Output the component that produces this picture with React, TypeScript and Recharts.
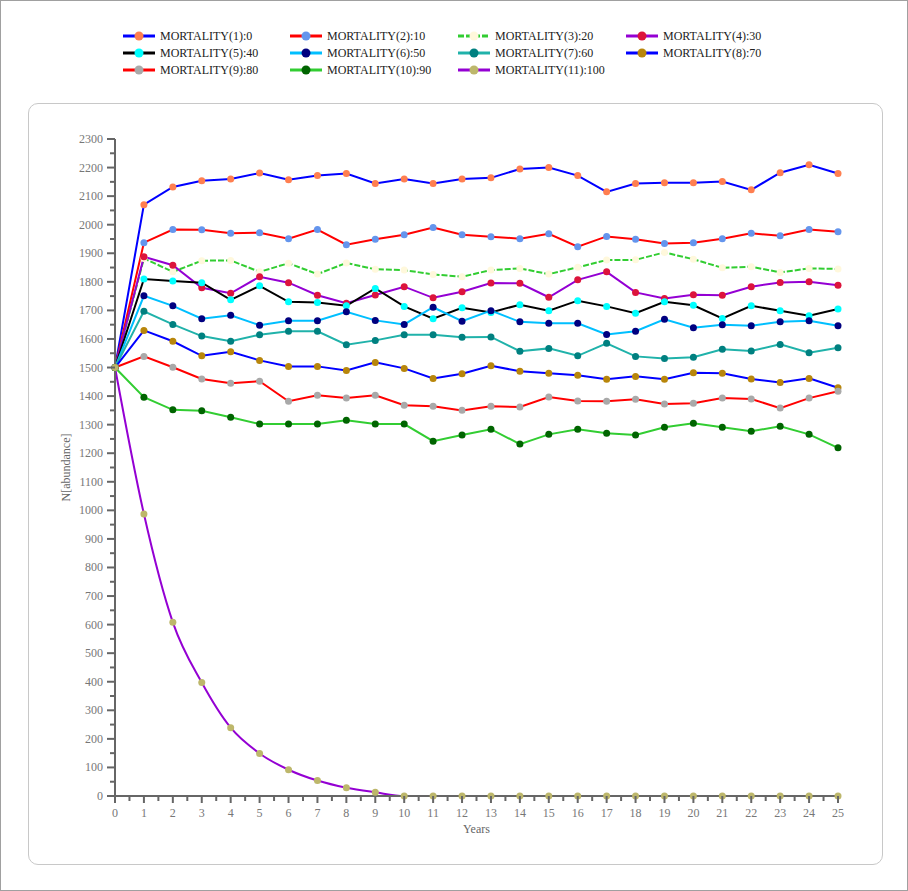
import { LineChart, Line, XAxis, YAxis } from 'recharts';

const years = [0, 1, 2, 3, 4, 5, 6, 7, 8, 9, 10, 11, 12, 13, 14, 15, 16, 17, 18, 19, 20, 21, 22, 23, 24, 25];

const mortality0 = [1500, 2070, 2132, 2154, 2160, 2181, 2157, 2172, 2179, 2144, 2160, 2144, 2160, 2164, 2195, 2200, 2172, 2115, 2144, 2147, 2147, 2151, 2122, 2182, 2210, 2179];
const mortality10 = [1500, 1937, 1983, 1982, 1970, 1972, 1951, 1983, 1930, 1949, 1965, 1990, 1965, 1958, 1951, 1968, 1923, 1959, 1949, 1934, 1937, 1951, 1970, 1961, 1983, 1975];
const mortality20 = [1500, 1882, 1835, 1874, 1875, 1835, 1865, 1827, 1866, 1844, 1841, 1826, 1818, 1841, 1847, 1827, 1851, 1876, 1877, 1903, 1879, 1849, 1853, 1833, 1847, 1845];
const mortality30 = [1500, 1888, 1858, 1779, 1760, 1818, 1797, 1753, 1725, 1754, 1783, 1744, 1765, 1796, 1795, 1746, 1807, 1835, 1763, 1742, 1755, 1753, 1783, 1798, 1800, 1788];
const mortality40 = [1500, 1810, 1803, 1797, 1737, 1786, 1730, 1728, 1716, 1777, 1714, 1671, 1709, 1693, 1720, 1699, 1734, 1714, 1690, 1730, 1718, 1672, 1716, 1699, 1681, 1705];
const mortality50 = [1500, 1751, 1716, 1671, 1683, 1648, 1664, 1664, 1695, 1665, 1651, 1711, 1662, 1699, 1660, 1655, 1655, 1616, 1627, 1669, 1639, 1650, 1646, 1660, 1664, 1646];
const mortality60 = [1500, 1697, 1651, 1610, 1592, 1615, 1627, 1627, 1580, 1595, 1615, 1615, 1606, 1607, 1557, 1567, 1541, 1585, 1539, 1532, 1536, 1564, 1558, 1581, 1552, 1569];
const mortality70 = [1500, 1630, 1592, 1541, 1555, 1525, 1504, 1504, 1490, 1518, 1497, 1462, 1478, 1506, 1487, 1480, 1473, 1459, 1469, 1459, 1482, 1480, 1460, 1448, 1462, 1429];
const mortality80 = [1500, 1539, 1501, 1460, 1445, 1452, 1382, 1403, 1393, 1403, 1368, 1364, 1350, 1364, 1362, 1397, 1383, 1382, 1389, 1372, 1375, 1393, 1390, 1358, 1393, 1417];
const mortality90 = [1500, 1396, 1352, 1349, 1326, 1302, 1302, 1302, 1315, 1302, 1302, 1242, 1264, 1284, 1232, 1266, 1284, 1270, 1264, 1291, 1305, 1291, 1277, 1294, 1266, 1219];
const mortality100 = [1500, 987, 608, 397, 239, 149, 92, 54, 29, 13, 0, 0, 0, 0, 0, 0, 0, 0, 0, 0, 0, 0, 0, 0, 0, 0];

const seriesValues = [mortality0, mortality10, mortality20, mortality30, mortality40, mortality50, mortality60, mortality70, mortality80, mortality90, mortality100];
const seriesNames = [
  'MORTALITY(1):0', 'MORTALITY(2):10', 'MORTALITY(3):20', 'MORTALITY(4):30',
  'MORTALITY(5):40', 'MORTALITY(6):50', 'MORTALITY(7):60', 'MORTALITY(8):70',
  'MORTALITY(9):80', 'MORTALITY(10):90', 'MORTALITY(11):100',
];

const lineColors = ['#0000ff', '#ff0000', '#32cd32', '#9400d3', '#000000', '#00bfff', '#20b2aa', '#0000ff', '#ff0000', '#32cd32', '#9400d3'];
const dotColors = ['#ff7f50', '#6495ed', '#fff8dc', '#dc143c', '#00ffff', '#000080', '#008080', '#b8860b', '#a9a9a9', '#006400', '#bdb76b'];
const dashes = [undefined, undefined, '6 2', undefined, undefined, undefined, undefined, undefined, undefined, undefined, undefined];

const xTicks = Array.from({ length: 51 }, (_, i) => i / 2);
const yTicks = Array.from({ length: 47 }, (_, i) => i * 50);

const data = years.map((year, i) => {
  const row: Record<string, number> = { year };
  seriesValues.forEach((vals, s) => {
    row[`s${s}`] = vals[i];
  });
  return row;
});

const FONT = '"Liberation Serif", "Times New Roman", serif';
const AXIS = '#666';
const TICK_TEXT = '#777';

function YTick(props: any) {
  const { x, y, payload } = props;
  const major = payload.value % 100 === 0;
  return (
    <g>
      <line x1={x - (major ? 8 : 5)} x2={x} y1={y} y2={y} stroke={AXIS} strokeWidth={2} />
      {major && (
        <text x={x - 12} y={y} dy={4} textAnchor="end" fontSize={12} fill={TICK_TEXT} fontFamily={FONT}>
          {payload.value}
        </text>
      )}
    </g>
  );
}

function XTick(props: any) {
  const { x, y, payload } = props;
  const major = Number.isInteger(payload.value);
  return (
    <g>
      <line x1={x} x2={x} y1={y} y2={y + (major ? 7 : 5)} stroke={AXIS} strokeWidth={2} />
      {major && (
        <text x={x} y={y} dy={21} textAnchor="middle" fontSize={12} fill={TICK_TEXT} fontFamily={FONT}>
          {payload.value}
        </text>
      )}
    </g>
  );
}

function YLabel(props: any) {
  const { viewBox } = props;
  const cx = viewBox.x + 11;
  const cy = viewBox.y + viewBox.height / 2;
  return (
    <text x={cx} y={cy} transform={`rotate(-90 ${cx} ${cy})`} textAnchor="middle" dy={4} fontSize={12} fill="#666" fontFamily={FONT}>
      N[abundance]
    </text>
  );
}

function TopLegend() {
  const colX = [122, 289, 457, 625];
  const rowY = [35, 52, 69];
  return (
    <svg width={908} height={90} style={{ position: 'absolute', left: 0, top: 0 }}>
      {seriesNames.map((name, i) => {
        const x = colX[i % 4];
        const y = rowY[Math.floor(i / 4)];
        return (
          <g key={name}>
            <line x1={x} x2={x + 32} y1={y} y2={y} stroke={lineColors[i]} strokeWidth={3} strokeDasharray={dashes[i]} />
            <circle cx={x + 16} cy={y} r={4.5} fill={dotColors[i]} />
            <text x={x + 37} y={y} dy={4} fontSize={12} fill="#222" fontFamily={FONT}>
              {name}
            </text>
          </g>
        );
      })}
    </svg>
  );
}

export default function App() {
  return (
    <div
      style={{
        position: 'absolute',
        left: 0,
        top: 0,
        width: 908,
        height: 891,
        boxSizing: 'border-box',
        border: '1px solid #a0a0a0',
        background: '#fff',
      }}
    >
      <div
        style={{
          position: 'absolute',
          left: 27,
          top: 102,
          width: 855,
          height: 762,
          boxSizing: 'border-box',
          border: '1px solid #c8c8c8',
          borderRadius: 10,
        }}
      />
      <TopLegend />
      <div style={{ position: 'absolute', left: -1, top: -1 }}>
        <LineChart width={908} height={891} data={data} margin={{ top: 139, right: 70, bottom: 50, left: 55 }}>
          <XAxis
            dataKey="year"
            type="number"
            domain={[0, 25]}
            ticks={xTicks}
            interval={0}
            height={45}
            tickSize={0}
            tickMargin={0}
            tickLine={false}
            tick={<XTick />}
            axisLine={{ stroke: AXIS, strokeWidth: 2 }}
            label={{ value: 'Years', position: 'insideBottom', offset: 8, fontSize: 12, fill: '#666', fontFamily: FONT }}
          />
          <YAxis
            type="number"
            domain={[0, 2300]}
            ticks={yTicks}
            interval={0}
            width={60}
            tickSize={0}
            tickMargin={0}
            tickLine={false}
            tick={<YTick />}
            axisLine={{ stroke: AXIS, strokeWidth: 2 }}
            label={<YLabel />}
          />
          {seriesNames.map((name, i) => (
            <Line
              key={name}
              name={name}
              dataKey={`s${i}`}
              type={i === 10 ? 'monotone' : 'linear'}
              stroke={lineColors[i]}
              strokeWidth={2}
              strokeDasharray={dashes[i]}
              dot={{ r: 3.5, fill: dotColors[i], stroke: 'none' }}
              isAnimationActive={false}
            />
          ))}
        </LineChart>
      </div>
    </div>
  );
}
